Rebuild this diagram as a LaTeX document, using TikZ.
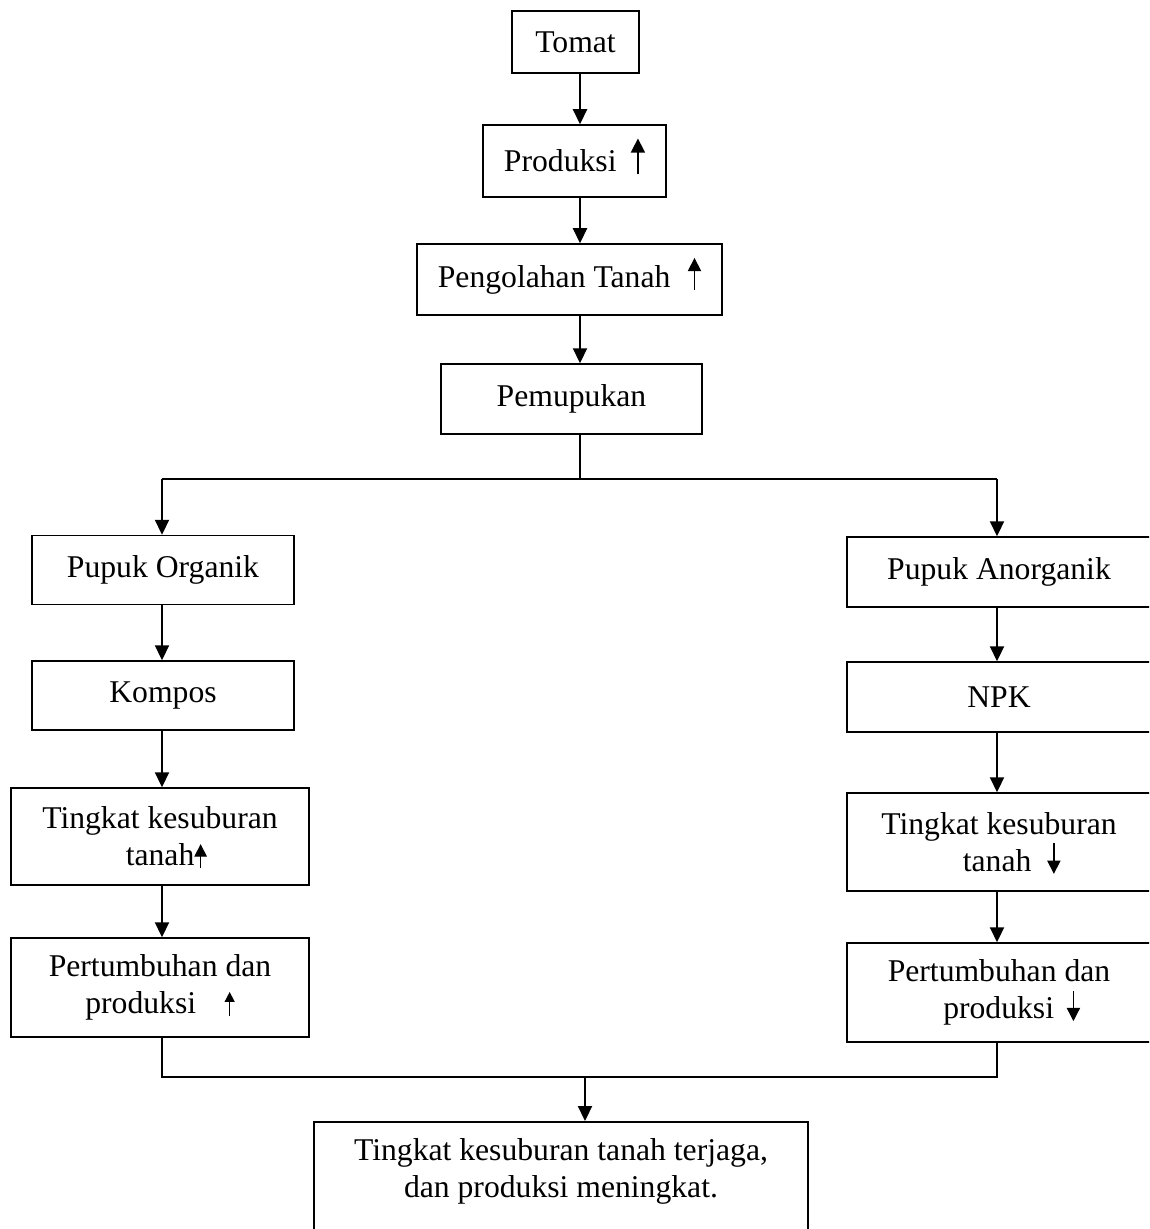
\documentclass[tikz,border=0pt]{standalone}
\usepackage{fontspec}
\setmainfont{Liberation Serif}
\usetikzlibrary{arrows.meta}
% Arrow signs inside the boxes: #1 = top above the baseline, #2 = head size.
\newcommand{\naik}[2]{\smash{\tikz[baseline=0pt]\draw[line width=0.8pt,
  -{Triangle[length=#2,width=#2]}] (0pt,-1.5pt) -- (0pt,#1);}}
\newcommand{\turun}[2]{\smash{\tikz[baseline=0pt]\draw[line width=0.8pt,
  -{Triangle[length=#2,width=#2]}] (0pt,#1) -- (0pt,-1.5pt);}}

\begin{document}
\begin{tikzpicture}[x=0.6pt,y=-0.6pt,
  kotak/.style={draw,line width=0.9pt,align=center,inner sep=0pt,
    font=\fontsize{19}{22.2}\selectfont},
  teks/.style={align=center,inner sep=0pt,font=\fontsize{19}{22.2}\selectfont},
  garis/.style={line width=0.9pt},
  panah/.style={line width=0.9pt,-{Triangle[length=9pt,width=8.5pt]}}]
  % Canvas in pixels, y grows downwards.
  \useasboundingbox (0,0) rectangle (1149,1229);
  \clip (0,0) rectangle (1149,1229);

  % Main column.
  \node[kotak,minimum width=76.2pt,minimum height=37.2pt] (tomat) at (575.5,42) {Tomat};
  \node[kotak,minimum width=109.8pt,minimum height=43.2pt] (produksi) at (574.5,161)
    {Produksi\hspace{0.45em}\naik{20pt}{8.5pt}};
  \node[kotak,minimum width=183pt,minimum height=42.6pt] (olah) at (569.5,279.5)
    {Pengolahan Tanah\hspace{0.55em}\naik{17.5pt}{8pt}};
  \node[kotak,minimum width=156.6pt,minimum height=42pt] (pupuk) at (571.5,399) {Pemupukan};

  % Spines of the three columns.
  \coordinate (poros) at (580,479);
  \coordinate (kiri) at (162,479);
  \coordinate (kanan) at (997,479);

  % Left column: organic fertiliser.
  \node[kotak,minimum width=157.2pt,minimum height=41.4pt] (organik) at (163,570) {Pupuk Organik};
  \node[kotak,minimum width=157.2pt,minimum height=41.4pt] (kompos) at (163,695.5) {Kompos};
  \node[kotak,minimum width=178.8pt,minimum height=58.2pt] (suburkiri) at (160,836.5)
    {Tingkat kesuburan\\ \hspace*{0.4em}tanah\naik{13pt}{7.5pt}};
  \node[kotak,minimum width=178.8pt,minimum height=59.4pt] (tumbuhkiri) at (160,987.5)
    {Pertumbuhan dan\\ produksi\hspace{0.9em}\naik{13pt}{6pt}};

  % Right column: inorganic fertiliser.
  \node[kotak,minimum width=182.4pt,minimum height=42pt] (anorganik) at (999,572) {Pupuk Anorganik};
  \node[kotak,minimum width=182.4pt,minimum height=42pt] (npk) at (999,697) {NPK};
  \node[kotak,minimum width=182.4pt,minimum height=58.8pt] (suburkanan) at (999,842)
    {Tingkat kesuburan\\ \hspace*{0.8em}tanah\hspace{0.5em}\turun{17pt}{8pt}};
  \node[kotak,minimum width=182.4pt,minimum height=59.4pt] (tumbuhkanan) at (999,992.5)
    {Pertumbuhan dan\\ \hspace*{0.8em}produksi\hspace{0.4em}\turun{16.5pt}{8pt}};

  % Result.
  \node[kotak,minimum width=296.4pt,minimum height=120pt,anchor=north] (hasil) at (561,1121) {};
  \node[teks,anchor=north] (hasilteks) at ([yshift=-10.4pt]hasil.north)
    {Tingkat kesuburan tanah terjaga,\\ dan produksi meningkat.};

  % Arrows down the main column.
  \foreach \a/\b in {tomat/produksi,produksi/olah,olah/pupuk}
    \draw[panah] (poros |- \a.south) -- (poros |- \b.north);

  % Split into two branches.
  \draw[garis] (poros |- pupuk.south) -- (poros);
  \draw[garis] (kiri) -- (kanan);
  \draw[panah] (kiri) -- (kiri |- organik.north);
  \draw[panah] (kanan) -- (kanan |- anorganik.north);

  \foreach \a/\b in {organik/kompos,kompos/suburkiri,suburkiri/tumbuhkiri}
    \draw[panah] (kiri |- \a.south) -- (kiri |- \b.north);
  \foreach \a/\b in {anorganik/npk,npk/suburkanan,suburkanan/tumbuhkanan}
    \draw[panah] (kanan |- \a.south) -- (kanan |- \b.north);

  % Join the branches again.
  \coordinate (gabung) at (585,1077);
  \draw[garis] (kiri |- tumbuhkiri.south) -- (kiri |- gabung) -- (kanan |- gabung)
    -- (kanan |- tumbuhkanan.south);
  \draw[panah] (gabung) -- (gabung |- hasil.north);
\end{tikzpicture}
\end{document}
